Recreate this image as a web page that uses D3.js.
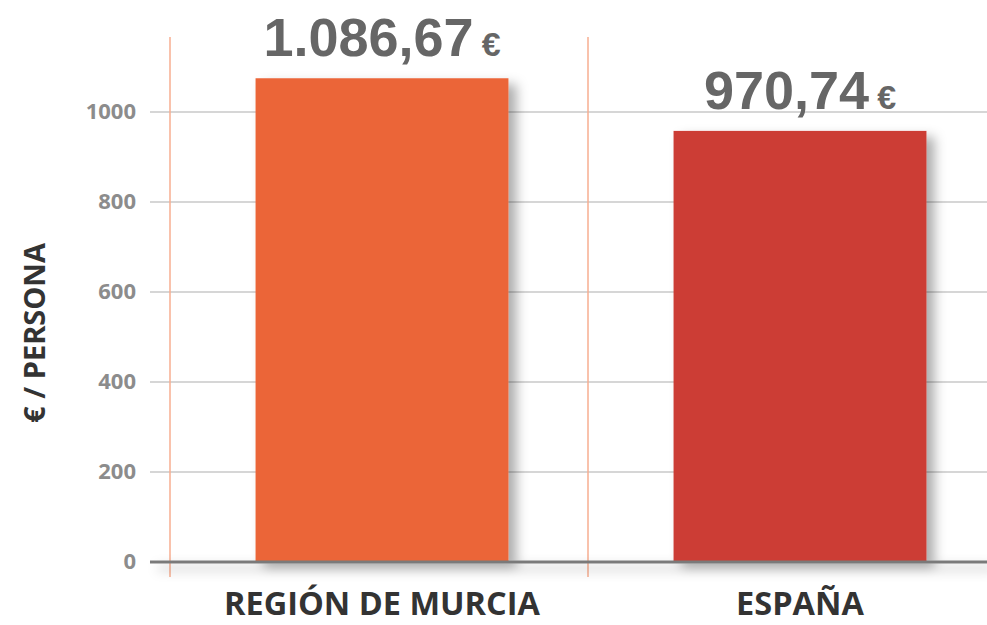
<!DOCTYPE html>
<html>
<head>
<meta charset="utf-8">
<script src="https://cdn.jsdelivr.net/npm/d3@7"></script>
<style>
  body { margin: 0; background: #fff; }
  svg { display: block; }
</style>
</head>
<body>
<div id="chart"></div>
<script>
// data
var categories = ['REGIÓN DE MURCIA', 'ESPAÑA'];
var values = [1075, 958];            // bar heights as drawn
var valueLabels = ['1.086,67', '970,74'];
var colors = ['#EB6539', '#CC3D35'];
var yTicks = [0, 200, 400, 600, 800, 1000];
var yTitle = '€ / PERSONA';

var width = 987, height = 625;

document.addEventListener('DOMContentLoaded', function () {
  draw();
}, false);

function draw() {
  var svg = d3.select('#chart').append('svg')
    .attr('width', width)
    .attr('height', height);

  var defs = svg.append('defs');
  var f = defs.append('filter').attr('id', 'shadow')
    .attr('x', '-10%').attr('y', '-10%').attr('width', '130%').attr('height', '130%');
  f.append('feDropShadow')
    .attr('dx', 8).attr('dy', 6)
    .attr('stdDeviation', 6)
    .attr('flood-color', '#000')
    .attr('flood-opacity', 0.32);

  var y = d3.scaleLinear().domain([0, 1000]).range([562, 112]);
  var x = d3.scaleBand()
    .domain(categories)
    .range([173, 1009])
    .paddingInner(0.395)
    .paddingOuter(0.1975);

  var gap = (x.step() - x.bandwidth()) / 2;

  // horizontal gridlines
  svg.append('g')
    .selectAll('line')
    .data(yTicks.filter(function (d) { return d > 0; }))
    .enter()
    .append('line')
    .attr('x1', 150)
    .attr('x2', width)
    .attr('y1', function (d) { return y(d); })
    .attr('y2', function (d) { return y(d); })
    .attr('stroke', '#d6d6d6')
    .attr('stroke-width', 2);

  // vertical orange separators
  svg.append('g')
    .selectAll('line')
    .data(categories)
    .enter()
    .append('line')
    .attr('x1', function (d) { return x(d) - gap - 3; })
    .attr('x2', function (d) { return x(d) - gap - 3; })
    .attr('y1', 37)
    .attr('y2', 577)
    .attr('stroke', '#F7AE90')
    .attr('stroke-width', 1.5);

  // bars + baseline with shadow
  var g = svg.append('g').attr('filter', 'url(#shadow)');

  g.selectAll('rect')
    .data(values)
    .enter()
    .append('rect')
    .attr('x', function (d, i) { return x(categories[i]); })
    .attr('y', function (d) { return y(d); })
    .attr('width', x.bandwidth())
    .attr('height', function (d) { return y(0) - y(d); })
    .attr('fill', function (d, i) { return colors[i]; });

  g.append('line')
    .attr('x1', 150)
    .attr('x2', width)
    .attr('y1', y(0))
    .attr('y2', y(0))
    .attr('stroke', '#7a7a7a')
    .attr('stroke-width', 3);

  // y tick labels
  var yAxis = svg.append('g')
    .attr('transform', 'translate(136,0)')
    .call(d3.axisLeft(y).tickValues(yTicks).tickSize(0).tickPadding(0).tickFormat(d3.format('d')));
  yAxis.select('.domain').remove();
  yAxis.selectAll('text')
    .attr('dy', '0.3em')
    .attr('fill', '#8c8c8c')
    .style('font-family', '"Open Sans", sans-serif')
    .style('font-weight', 700)
    .style('font-size', '22px');

  // y title
  svg.append('text')
    .attr('transform', 'translate(45,333) rotate(-90)')
    .attr('text-anchor', 'middle')
    .attr('fill', '#333')
    .style('font-family', '"Open Sans", sans-serif')
    .style('font-weight', 700)
    .style('font-size', '29px')
    .text(yTitle);

  // category labels
  svg.append('g')
    .selectAll('text')
    .data(categories)
    .enter()
    .append('text')
    .attr('x', function (d) { return x(d) + x.bandwidth() / 2; })
    .attr('y', 615)
    .attr('text-anchor', 'middle')
    .attr('fill', '#333')
    .style('font-family', '"Open Sans", sans-serif')
    .style('font-weight', 700)
    .style('font-size', '32.5px')
    .text(function (d) { return d; });

  // value labels
  var vl = svg.append('g')
    .selectAll('text')
    .data(values)
    .enter()
    .append('text')
    .attr('x', function (d, i) { return x(categories[i]) + x.bandwidth() / 2; })
    .attr('y', function (d) { return y(d) - 22; })
    .attr('text-anchor', 'middle')
    .attr('fill', '#666')
    .style('font-family', '"Liberation Sans", Arial, sans-serif')
    .style('font-weight', 700);
  vl.append('tspan')
    .style('font-size', '54px')
    .text(function (d, i) { return valueLabels[i]; });
  vl.append('tspan')
    .attr('dx', 8)
    .style('font-size', '34px')
    .text('€');
}
</script>
</body>
</html>
